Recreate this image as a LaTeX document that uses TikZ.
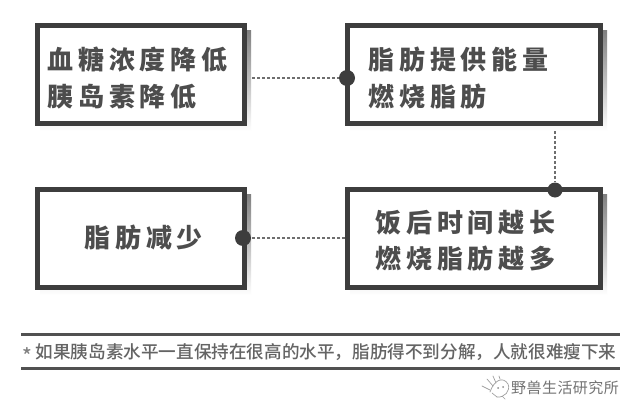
\documentclass[tikz,border=0pt]{standalone}
\usepackage{fontspec}
\newfontfamily\cjkbig[LetterSpace=19]{Noto Sans CJK SC Black}
\newfontfamily\cjk{Noto Sans CJK SC Medium}
\newfontfamily\cjkmark[LetterSpace=3]{Noto Sans CJK SC}
\usetikzlibrary{calc}
\definecolor{ink}{gray}{0.24}
\definecolor{shade}{gray}{0.89}
\tikzset{
  x=1pt,y=-1pt,
  boxed/.style={draw=ink,line width=5pt,fill=white,minimum height=98pt,inner sep=0pt,outer sep=0pt},
  wide/.style={boxed,minimum width=253pt},
  narrow/.style={boxed,minimum width=207pt},
  big/.style={font=\cjkbig\fontsize{26}{26}\selectfont,text=ink!92,inner sep=0pt,anchor=west},
  dotted link/.style={draw=ink!75,line width=1.7pt,dash pattern=on 2.6pt off 2.4pt},
  blob/.style={circle,fill=ink,inner sep=0pt,minimum size=16pt},
  rulebar/.style={draw=ink!90,line width=2.8pt}
}
\begin{document}
\begin{tikzpicture}
\useasboundingbox (0,0) rectangle (640,415);
\fill[white] (0,0) rectangle (640,415);
% shadows
\fill[shade] (40,30) rectangle (251,131);
\fill[shade] (350,30) rectangle (607,131);
\fill[shade] (40,194) rectangle (251,295);
\fill[shade] (350,194) rectangle (607,295);
% boxes
\node[narrow] (a) at (141,74.5) {};
\node[wide] (b) at (474,74.5) {};
\node[narrow] (c) at (141,238.5) {};
\node[wide] (d) at (474,238.5) {};
% texts
\node[big] (a1) at (47,60) {血糖浓度降低};
\node[big] (a2) at (47,97) {胰岛素降低};
\node[big] (b1) at (368,60) {脂肪提供能量};
\node[big] (b2) at (368,97) {燃烧脂肪};
\node[big] (c1) at (84,238) {脂肪减少};
\node[big] (d1) at (375,223) {饭后时间越长};
\node[big] (d2) at (375,259) {燃烧脂肪越多};
% connector ends
\node[blob] (ba) at (347,78) {};
\node[blob,minimum size=15pt] (db) at (555,190) {};
\node[blob] (cd) at (243,238) {};
\coordinate (af) at (252,78);
\coordinate (bf) at (555,131);
\coordinate (df) at (345,238);
\draw[dotted link] (af) -- (ba);
\draw[dotted link] (bf) -- (db);
\draw[dotted link] (df) -- (cd);
% footnote
\coordinate (r1l) at (21,334.5);
\coordinate (r1r) at (620,334.5);
\coordinate (r2l) at (21,368.5);
\coordinate (r2r) at (620,368.5);
\draw[rulebar] (r1l) -- (r1r);
\draw[rulebar] (r2l) -- (r2r);
\node[font=\cjk\fontsize{17.6}{18}\selectfont,text=ink!80,inner sep=0pt,anchor=west] (note) at (35.5,352) {如果胰岛素水平一直保持在很高的水平，脂肪得不到分解，人就很难瘦下来};
\node[font=\cjk\fontsize{20}{20}\selectfont,text=ink!65,inner sep=0pt,anchor=center] (star) at (27,355) {*};
% watermark
\node[font=\cjkmark\fontsize{15}{15}\selectfont,text=black!55,inner sep=0pt,anchor=west] (mark) at (511,388) {野兽生活研究所};
\begin{scope}[draw=black!38,line width=0.7pt,line cap=round]
\draw (490,392) .. controls (494,380) and (503,376) .. (508,384) .. controls (511,391) and (504,398) .. (497,397);
\draw (497,397) -- (492,393);
\draw (482,386) -- (490,390);
\draw (487,379) -- (493,386);
\draw (493,376) -- (496,383);
\draw (499,376) -- (500,379);
\draw (502,396) -- (505,399);
\fill[black!45] (498,388) circle (1);
\fill[black!45] (503,387) circle (1);
\end{scope}
\end{tikzpicture}
\end{document}
